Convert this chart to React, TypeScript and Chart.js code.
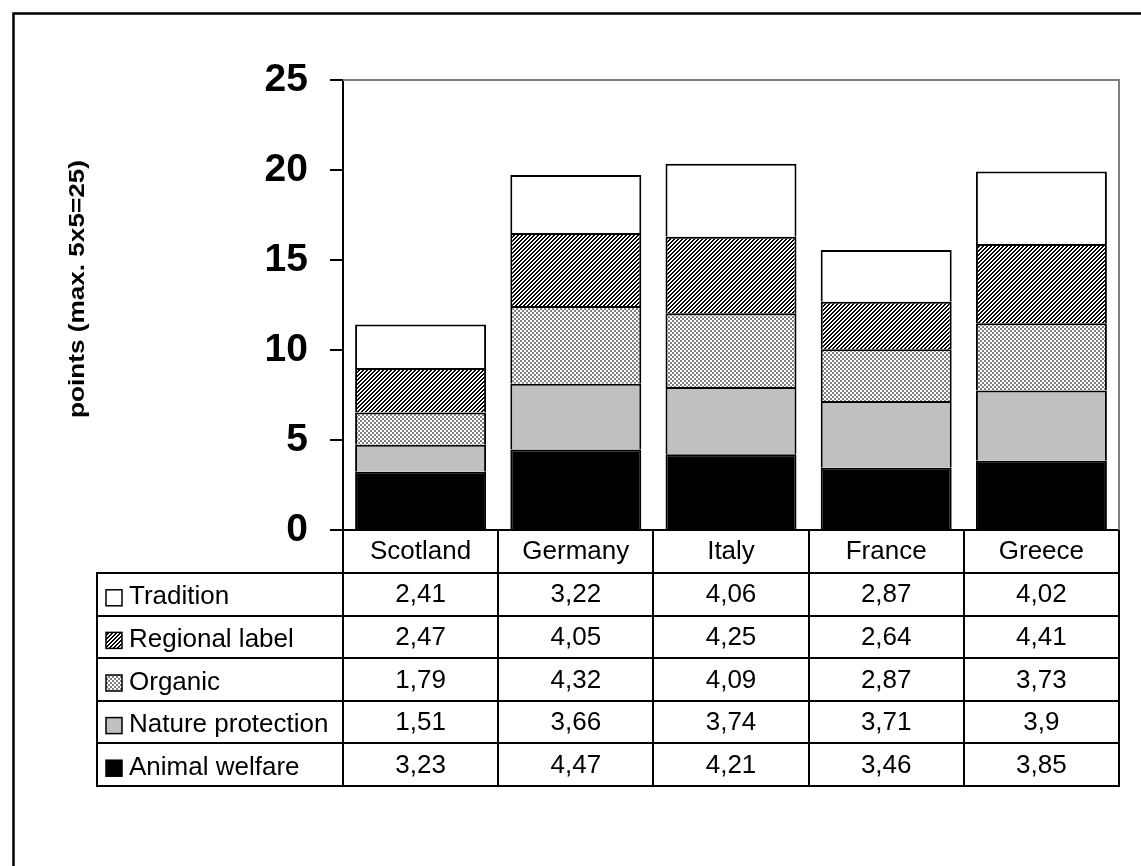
import React, { useEffect, useRef } from "react";
import { Chart, registerables } from "chart.js";

Chart.register(...registerables);

// ---- data ----
const categories = ["Scotland", "Germany", "Italy", "France", "Greece"];
const animalWelfare = [3.23, 4.47, 4.21, 3.46, 3.85];
const natureProtection = [1.51, 3.66, 3.74, 3.71, 3.9];
const organic = [1.79, 4.32, 4.09, 2.87, 3.73];
const regionalLabel = [2.47, 4.05, 4.25, 2.64, 4.41];
const tradition = [2.41, 3.22, 4.06, 2.87, 4.02];
const yTickValues = [0, 5, 10, 15, 20, 25];
const yTitle = "points (max. 5x5=25)";

const W = 1141;
const H = 866;

function makePattern(kind: "hatch" | "check"): CanvasPattern {
  const c = document.createElement("canvas");
  const size = 4;
  c.width = size;
  c.height = size;
  const g = c.getContext("2d")!;
  g.fillStyle = "#ffffff";
  g.fillRect(0, 0, size, size);
  for (let y = 0; y < size; y++) {
    for (let x = 0; x < size; x++) {
      const on =
        kind === "hatch" ? (x + y) % 4 < 2 : ((x >> 1) + (y >> 1)) % 2 === 0;
      if (on) {
        g.fillStyle = kind === "hatch" ? "#000000" : "#808080";
        g.fillRect(x, y, 1, 1);
      }
    }
  }
  return g.createPattern(c, "repeat")!;
}

const fmt = (v: number) => String(v).replace(".", ",");

export default function App() {
  const ref = useRef<HTMLCanvasElement | null>(null);

  useEffect(() => {
    const canvas = ref.current;
    if (!canvas) return;
    const hatch = makePattern("hatch");
    const check = makePattern("check");

    const series = [
      { name: "Animal welfare", data: animalWelfare, fill: "#000000" as any },
      { name: "Nature protection", data: natureProtection, fill: "#c0c0c0" as any },
      { name: "Organic", data: organic, fill: check as any },
      { name: "Regional label", data: regionalLabel, fill: hatch as any },
      { name: "Tradition", data: tradition, fill: "#ffffff" as any },
    ];

    const tablePlugin = {
      id: "tableAndFrame",
      beforeDraw(chart: any) {
        const ctx = chart.ctx;
        ctx.save();
        ctx.fillStyle = "#ffffff";
        ctx.fillRect(0, 0, chart.width, chart.height);
        ctx.restore();
      },
      afterDraw(chart: any) {
        const ctx: CanvasRenderingContext2D = chart.ctx;
        const ca = chart.chartArea;
        const xs = chart.scales.x;
        const n = categories.length;
        const catW = (ca.right - ca.left) / n;
        const headerBottom = ca.bottom + 43;
        const rowH = 42.6;
        const rowsData = [...series].reverse();
        const rows = rowsData.length;
        const tableBottom = headerBottom + rows * rowH;
        const tableLeft = 97;

        ctx.save();
        // plot area frame (gray top & right)
        ctx.strokeStyle = "#808080";
        ctx.lineWidth = 2;
        ctx.beginPath();
        ctx.moveTo(ca.left, ca.top);
        ctx.lineTo(ca.right, ca.top);
        ctx.lineTo(ca.right, ca.bottom);
        ctx.stroke();

        // outer border
        ctx.strokeStyle = "#000000";
        ctx.lineWidth = 2.5;
        ctx.strokeRect(13.5, 13.5, 1400, 1400);

        // table grid
        ctx.lineWidth = 2;
        ctx.beginPath();
        for (let r = 0; r <= rows; r++) {
          const y = Math.round(headerBottom + r * rowH);
          ctx.moveTo(tableLeft - 1, y);
          ctx.lineTo(ca.right + 1, y);
        }
        ctx.moveTo(tableLeft, headerBottom);
        ctx.lineTo(tableLeft, Math.round(tableBottom));
        for (let i = 0; i <= n; i++) {
          const x = Math.round(
            i < n ? xs.getPixelForValue(i) - catW / 2 : xs.getPixelForValue(n - 1) + catW / 2
          );
          ctx.moveTo(x, ca.bottom);
          ctx.lineTo(x, Math.round(tableBottom));
        }
        ctx.stroke();

        // table content
        ctx.fillStyle = "#000000";
        ctx.font = "26px Arial, 'Liberation Sans', sans-serif";
        ctx.textBaseline = "middle";
        rowsData.forEach((s, r) => {
          const cy = headerBottom + r * rowH + rowH / 2;
          // key
          ctx.save();
          ctx.fillStyle = s.fill;
          ctx.fillRect(106, cy + 3.5 - 8, 16, 16);
          ctx.strokeStyle = "#000000";
          ctx.lineWidth = 1.5;
          ctx.strokeRect(106, cy + 3.5 - 8, 16, 16);
          ctx.restore();
          ctx.textAlign = "left";
          ctx.fillText(s.name, 129, cy + 3);
          ctx.textAlign = "center";
          s.data.forEach((v, i) => {
            ctx.fillText(fmt(v), xs.getPixelForValue(i), cy + 1);
          });
        });

        // y-axis title
        ctx.save();
        ctx.translate(78, 289);
        ctx.rotate(-Math.PI / 2);
        ctx.font = "bold 22px Arial, 'Liberation Sans', sans-serif";
        const tw = ctx.measureText(yTitle).width;
        ctx.scale(258 / tw, 1);
        ctx.textAlign = "center";
        ctx.textBaseline = "middle";
        ctx.fillText(yTitle, 0, 0);
        ctx.restore();

        ctx.restore();
      },
    };

    const chart = new Chart(canvas, {
      type: "bar",
      data: {
        labels: categories,
        datasets: series.map((s) => ({
          label: s.name,
          data: s.data,
          backgroundColor: s.fill,
          borderColor: "#000000",
          borderWidth: 2,
          barPercentage: 0.844,
          categoryPercentage: 1,
        })),
      },
      options: {
        responsive: false,
        animation: false,
        devicePixelRatio: 1,
        layout: { padding: { left: 0, right: 22, top: 80, bottom: 0 } },
        plugins: {
          legend: { display: false },
          tooltip: { enabled: false },
          title: { display: false },
        },
        scales: {
          x: {
            stacked: true,
            grid: { display: false, drawTicks: false },
            border: { display: true, color: "#000000", width: 2 },
            ticks: {
              color: "#000000",
              font: { family: "Arial, 'Liberation Sans', sans-serif", size: 26 },
              padding: 6,
              maxRotation: 0,
              autoSkip: false,
            },
            afterFit(scale: any) {
              scale.height = H - 530;
            },
          },
          y: {
            stacked: true,
            min: yTickValues[0],
            max: yTickValues[yTickValues.length - 1],
            afterBuildTicks(scale: any) {
              scale.ticks = yTickValues.map((v) => ({ value: v }));
            },
            grid: {
              display: true,
              drawOnChartArea: false,
              drawTicks: true,
              tickLength: 13,
              color: "#000000",
              lineWidth: 2,
            },
            border: { display: true, color: "#000000", width: 2 },
            ticks: {
              color: "#000000",
              font: {
                family: "Arial, 'Liberation Sans', sans-serif",
                size: 39,
                weight: "bold",
              },
              padding: 22,
            },
            afterFit(scale: any) {
              scale.width = 343;
            },
          },
        },
      },
      plugins: [tablePlugin as any],
    });

    return () => chart.destroy();
  }, []);

  return (
    <div
      style={{
        position: "fixed",
        left: 0,
        top: 0,
        width: W,
        height: H,
        background: "#ffffff",
        overflow: "hidden",
      }}
    >
      <canvas ref={ref} width={W} height={H} style={{ display: "block" }} />
    </div>
  );
}
